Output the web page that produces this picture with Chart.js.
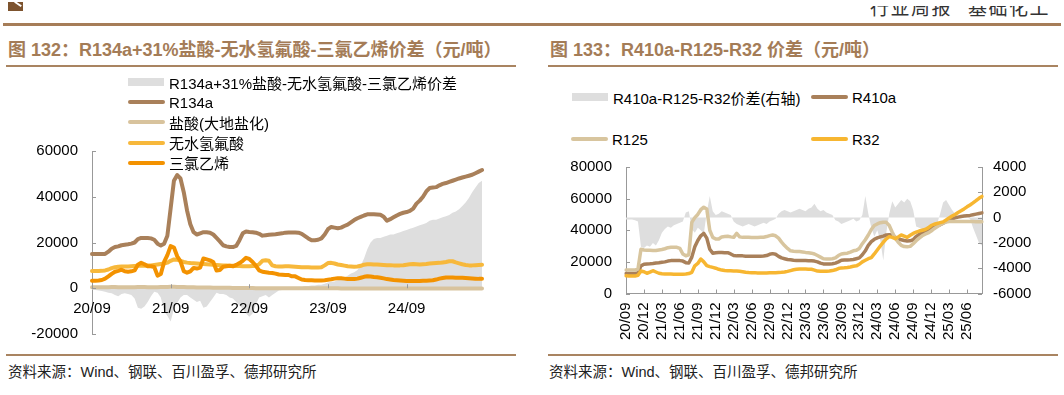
<!DOCTYPE html>
<html lang="zh">
<head>
<meta charset="UTF-8">
<title>价差</title>
<style>
  body { margin: 0; width: 1064px; height: 395px; position: relative; overflow: hidden; background: #fff;
         font-family: 'Liberation Sans', 'Noto Sans CJK SC', sans-serif; color: #000; }
  .abs { position: absolute; }
  .hdr-rule { left: 3px; top: 23px; width: 1058px; height: 3px; background: #a67d58; }
  .hdr-clip { left: 860px; top: 6px; width: 200px; height: 12px; overflow: hidden; }
  .hdr-clip span { position: absolute; top: -7px; font-size: 19px; line-height: 19px; color: #333; letter-spacing: 1.5px; white-space: nowrap; }
  .logo { left: 8px; top: 2px; width: 15px; height: 9px; background: #7d532e; }
  .logo::after { content: ''; position: absolute; left: 6px; top: 1px; width: 8px; height: 2px; background: #fff; transform: rotate(35deg); }
  .title { font-size: 18px; font-weight: bold; color: #a47c57; white-space: nowrap; line-height: 20px; }
  .rule { height: 2px; background: #a98461; }
  .legend { display: flex; flex-direction: column; }
  .item { display: flex; align-items: center; height: 20.2px; font-size: 15px; white-space: nowrap; }
  .sw-line { width: 37px; height: 4px; border-radius: 2px; margin-right: 4px; }
  .sw-box { width: 36px; height: 8px; background: #dedede; margin-right: 5px; }
  .source { font-size: 14.5px; color: #222; white-space: nowrap; line-height: 18px; }
  canvas { position: absolute; }
</style>
<script src="https://cdn.jsdelivr.net/npm/chart.js"></script>
</head>
<body>
  <div class="abs logo"></div>
  <div class="abs hdr-clip"><span style="left:10px">行业周报</span><span style="left:108px">基础化工</span></div>
  <div class="abs hdr-rule"></div>

  <!-- 图 132 -->
  <div class="abs title" style="left:8px; top:40px;">图 132：R134a+31%盐酸-无水氢氟酸-三氯乙烯价差（元/吨）</div>
  <div class="abs rule" style="left:6px; top:65px; width:510px;"></div>
  <canvas id="chart132" width="500" height="204" style="left:0; top:140px;"></canvas>
  <div class="abs legend" style="left:128px; top:72px;">
    <div class="item"><span class="sw-box"></span>R134a+31%盐酸-无水氢氟酸-三氯乙烯价差</div>
    <div class="item"><span class="sw-line" style="background:#a9805a"></span>R134a</div>
    <div class="item"><span class="sw-line" style="background:#d8c39d"></span>盐酸(大地盐化)</div>
    <div class="item"><span class="sw-line" style="background:#f7b83b"></span>无水氢氟酸</div>
    <div class="item"><span class="sw-line" style="background:#f39200"></span>三氯乙烯</div>
  </div>
  <div class="abs rule" style="left:6px; top:354px; width:510px;"></div>
  <div class="abs source" style="left:8px; top:363px;">资料来源：Wind、钢联、百川盈孚、德邦研究所</div>

  <!-- 图 133 -->
  <div class="abs title" style="left:550px; top:40px;">图 133：R410a-R125-R32 价差（元/吨）</div>
  <div class="abs rule" style="left:548px; top:65px; width:510px;"></div>
  <canvas id="chart133" width="520" height="200" style="left:540px; top:150px;"></canvas>
  <div class="abs item" style="left:572px; top:87px;"><span class="sw-box"></span>R410a-R125-R32价差(右轴)</div>
  <div class="abs item" style="left:811px; top:87px;"><span class="sw-line" style="background:#a9805a"></span>R410a</div>
  <div class="abs item" style="left:571px; top:129px;"><span class="sw-line" style="background:#d8c59e"></span>R125</div>
  <div class="abs item" style="left:811px; top:129px;"><span class="sw-line" style="background:#f7b631"></span>R32</div>
  <div class="abs rule" style="left:548px; top:354px; width:510px;"></div>
  <div class="abs source" style="left:549px; top:363px;">资料来源：Wind、钢联、百川盈孚、德邦研究所</div>

<script>
// half-monthly observation dates, shared by both charts
const dates = [
  '2020-09-01','2020-09-16','2020-10-01','2020-10-16','2020-11-01','2020-11-16','2020-12-01','2020-12-16',
  '2021-01-01','2021-01-16','2021-02-01','2021-02-16','2021-03-01','2021-03-16','2021-04-01','2021-04-16',
  '2021-05-01','2021-05-16','2021-06-01','2021-06-16','2021-07-01','2021-07-16','2021-08-01','2021-08-16',
  '2021-09-01','2021-09-16','2021-10-01','2021-10-16','2021-11-01','2021-11-16','2021-12-01','2021-12-16',
  '2022-01-01','2022-01-16','2022-02-01','2022-02-16','2022-03-01','2022-03-16','2022-04-01','2022-04-16',
  '2022-05-01','2022-05-16','2022-06-01','2022-06-16','2022-07-01','2022-07-16','2022-08-01','2022-08-16',
  '2022-09-01','2022-09-16','2022-10-01','2022-10-16','2022-11-01','2022-11-16','2022-12-01','2022-12-16',
  '2023-01-01','2023-01-16','2023-02-01','2023-02-16','2023-03-01','2023-03-16','2023-04-01','2023-04-16',
  '2023-05-01','2023-05-16','2023-06-01','2023-06-16','2023-07-01','2023-07-16','2023-08-01','2023-08-16',
  '2023-09-01','2023-09-16','2023-10-01','2023-10-16','2023-11-01','2023-11-16','2023-12-01','2023-12-16',
  '2024-01-01','2024-01-16','2024-02-01','2024-02-16','2024-03-01','2024-03-16','2024-04-01','2024-04-16',
  '2024-05-01','2024-05-16','2024-06-01','2024-06-16','2024-07-01','2024-07-16','2024-08-01','2024-08-16',
  '2024-09-01','2024-09-16','2024-10-01','2024-10-16','2024-11-01','2024-11-16','2024-12-01','2024-12-16',
  '2025-01-01','2025-01-16','2025-02-01','2025-02-16','2025-03-01','2025-03-16','2025-04-01','2025-04-16',
  '2025-05-01','2025-05-16','2025-06-01','2025-06-16','2025-07-01','2025-07-16','2025-08-01','2025-08-16'
];

// 图 132 series (元/吨)
const spread134 = [
  -500,-800,-1000,-1200,-1500,-2000,-2200,-3000,-3500,-2500,
  -2200,-2500,-3000,-4500,-8500,-9000,-8000,-6000,-3500,-1500,
  -2000,-4000,-10000,-12000,-14500,-9000,-6500,-4000,-3000,-3000,
  -4000,-5000,-6000,-5500,-8500,-8000,-6000,-4000,-2000,-2500,
  -2500,-3000,-4000,-4500,-6000,-7500,-9000,-11000,-12500,-11000,
  -7000,-4000,-3500,-3000,-4000,-3000,-2000,-1000,-800,-600,
  -500,-300,0,300,500,1000,1000,1200,1200,1500,
  1500,2000,2500,2800,3000,3500,4000,4500,5500,6500,
  7000,8000,10000,13000,17000,20000,21500,22000,22000,22500,
  23000,23500,23500,24000,24500,25000,25500,26000,26500,27000,
  27500,28000,28500,29500,30000,30000,30500,31000,31500,32000,
  33000,33500,34500,36000,37500,39500,42000,44000,46000,47000
];
const r134a = [
  15000,15000,15000,15000,15000,16000,17300,18000,18300,18800,
  19000,19200,19500,20000,21500,22000,22000,22000,21800,21200,
  19500,18700,19500,23000,35000,47000,49500,48000,42000,34000,
  28000,24500,23500,24000,24500,24500,24300,23500,22000,20500,
  18800,18300,18000,18000,18500,21000,24000,24800,24600,24500,
  24300,23800,23000,23200,23400,23500,23600,23800,24000,24300,
  24400,24400,24400,24300,23800,22800,21800,21000,21000,21200,
  21800,23500,25800,26800,26500,26200,26500,27200,27800,28800,
  29800,30600,31200,31800,32300,32400,32300,32200,32100,31300,
  29500,30200,31000,31800,32500,33000,33300,33800,34800,37000,
  38300,40000,42300,43800,44000,44200,45000,45600,46000,46500,
  47000,47500,48000,48400,48800,49200,49600,50300,51000,51700
];
const hcl = [
  400,400,400,450,450,450,500,500,450,450,
  400,400,400,450,500,500,500,450,450,450,
  450,500,550,600,650,650,600,550,500,450,
  400,400,350,350,300,300,300,250,250,250,
  200,200,200,150,150,150,100,100,100,100,
  50,50,50,50,0,0,0,0,0,0,
  50,50,50,50,0,0,0,0,0,0,
  -50,-50,-50,-50,-50,-50,-100,-100,-100,-100,
  -100,-100,-100,-100,-100,-100,-100,-150,-150,-150,
  -150,-150,-150,-150,-150,-150,-150,-150,-150,-150,
  -150,-150,-150,-150,-150,-150,-150,-150,-150,-150,
  -150,-150,-150,-150,-150,-150,-150,-150,-150,-150
];
const hf = [
  7500,7500,7500,7600,7800,8200,8800,9200,9400,9500,
  9500,9500,9600,9700,9800,9800,9800,9900,10000,10200,
  10400,10600,10800,11200,12000,12600,12500,12000,11500,11200,
  11000,10900,10800,10700,10600,10500,10400,10300,10200,10100,
  10000,9900,9800,9800,9700,9700,9600,9600,9600,9700,
  9800,10500,12000,12200,12000,10000,9600,9500,9500,9600,
  9600,9500,9400,9300,9200,9200,9200,9100,9100,9100,
  9200,10000,11000,11100,10800,10400,10200,9900,9600,9500,
  9400,9500,9800,10300,10500,10500,10400,10400,10300,10200,
  10100,10100,10000,10000,10000,10100,10300,10500,10600,10500,
  10400,10500,10600,10800,10900,11000,11100,11300,11500,11800,
  11800,11300,10900,10500,10200,10000,10000,10100,10200,10300
];
const tce = [
  3300,3300,3400,3600,4200,5200,6300,7200,7600,8100,
  7400,7200,7400,7800,10300,11100,10500,9600,9600,9300,
  5500,6200,11500,14500,18400,17800,14000,11800,7500,6800,
  7400,8900,8600,9000,13000,12600,12200,11500,7800,8000,
  9400,9600,9800,9600,10200,11000,12000,13300,12800,11500,
  9800,7800,7200,7000,6800,6700,6400,6000,5900,5800,
  5800,5200,5200,4500,3800,3600,3500,3500,3400,3400,
  3400,3500,3700,3900,4200,4400,4400,4200,4000,4000,
  4000,4200,4600,5000,5200,5100,4900,4800,4600,4300,
  4000,3800,3600,3500,3400,3300,3200,3200,3200,3200,
  3200,3300,3300,3400,3500,3800,4200,4500,4700,4700,
  4700,4600,4600,4600,4500,4400,4300,4200,4100,4100
];

// 图 133 series (元/吨)
const spread410 = [
  -150,-150,-150,-200,-300,-2300,-2400,-2200,-2300,-2000,
  -2200,-1800,-1200,-900,-700,-800,-600,-500,-400,-300,
  400,500,-900,-1200,-800,-1000,-1300,400,1700,500,
  200,300,500,400,300,200,-300,-500,-600,-700,
  -600,-500,-600,-700,-600,-500,-400,-500,-300,-200,
  -100,300,500,600,500,400,500,600,700,600,
  500,700,800,1100,700,500,600,400,300,200,
  -200,-300,-500,-400,-300,-200,-100,-300,-200,200,
  1700,300,-800,-1500,-1000,-1800,-3400,-1200,300,1300,
  800,1100,1400,1200,1500,1300,600,-700,-800,-900,
  -1000,-800,-700,-600,-500,300,1200,1400,1000,600,
  300,100,0,100,0,-100,-800,-1400,-2000,-2200
];
const r410a = [
  12700,12700,12700,12700,13000,17500,18500,18700,18800,19000,
  19300,19500,19800,20000,20500,20800,20800,20800,20800,20500,
  19500,19300,23000,29500,33500,36500,38000,35000,28000,25500,
  25800,26000,26000,25800,25800,25000,24000,23800,23800,23800,
  23600,23500,23500,23500,23600,23600,23700,24000,24800,25200,
  24800,23500,22500,22000,21500,21300,21000,20800,20800,20800,
  20800,20700,20700,20500,20000,19200,18700,18600,18600,18800,
  19200,20000,21000,21200,21200,21300,21500,22000,22500,24500,
  27000,30500,32800,34300,35200,35800,36300,37000,37200,37000,
  35500,34500,34000,33500,33200,33300,34000,36000,37400,38300,
  39000,40000,41000,42200,43000,43500,44500,45500,46500,47200,
  47800,48300,48700,49000,49200,49400,49800,50200,50600,51000
];
const r125 = [
  14800,14800,14800,14800,15500,28000,27500,27300,27300,27200,
  27200,27500,27800,28300,29000,29200,29200,29200,28500,25000,
  23900,24500,45000,48000,50000,53000,54600,53500,40000,35500,
  34500,34500,35800,36000,36200,35800,35500,38000,35800,35500,
  35500,35500,35400,35400,35400,35500,35600,36000,36600,37000,
  36500,35000,32500,30300,28500,27000,26700,26600,26500,26300,
  26000,25800,25500,25000,24000,23000,22000,21800,21800,22000,
  22500,24000,25000,25300,25500,26200,27000,27300,28500,31500,
  34000,37000,40500,43000,44000,44800,45100,45000,43000,38700,
  35000,32400,30500,29700,29500,29800,31500,33400,35000,36500,
  37500,38300,39500,41000,42200,43500,44500,45200,45500,45500,
  45600,45600,45600,45500,45500,45500,45500,45400,45400,45400
];
const r32 = [
  11200,11000,11000,11000,11500,14200,13800,12800,13500,14400,
  13600,12800,12500,12400,12300,12300,12200,12200,12200,12200,
  12300,12600,13400,17500,19000,21800,20000,17600,17000,16500,
  16000,15300,14800,14500,14400,14400,14300,14200,14000,13800,
  13500,13300,13200,13200,13000,12900,12900,13000,13100,13200,
  13200,13300,13400,13600,14000,14500,15000,15300,15500,15500,
  15500,15400,15300,14800,14200,14000,14000,14000,14200,14500,
  15000,15800,16200,16300,16500,16800,17200,17500,18500,20000,
  21000,22000,22700,25000,27500,30000,32400,34500,36000,35500,
  34700,35800,37000,36300,35500,36800,38000,38800,39500,40000,
  40500,41500,43000,43800,44300,44800,45300,46500,47800,49000,
  50000,51200,52300,53500,54800,56000,57300,58700,60200,61400
];

// tick labels
const ticks132 = ['20/09','21/09','22/09','23/09','24/09'];
const ticks133 = ['20/09','20/12','21/03','21/06','21/09','21/12','22/03','22/06','22/09','22/12',
                  '23/03','23/06','23/09','23/12','24/03','24/06','24/09','24/12','25/03','25/06'];

Chart.defaults.font.family = "'Liberation Sans', 'Noto Sans CJK SC', sans-serif";
Chart.defaults.font.size = 15;
Chart.defaults.color = '#000';

function dateLabel(list) {
  return (v, i) => {
    const d = dates[i];
    const lbl = d.slice(2, 4) + '/' + d.slice(5, 7);
    return d.endsWith('-01') && list.includes(lbl) ? lbl : null;
  };
}

// short tick marks drawn inside the plot, like the original
const innerTicks = {
  id: 'innerTicks',
  afterDraw(chart, args, opts) {
    const ctx = chart.ctx;
    ctx.save();
    ctx.strokeStyle = '#999';
    ctx.lineWidth = 1;
    ctx.beginPath();
    opts.axes.forEach(id => {
      const s = chart.scales[id];
      s.ticks.forEach((t, i) => {
        if (t.label === null || t.label === undefined) return;
        const p = Math.round(s.getPixelForTick(i)) + 0.5;
        if (s.isHorizontal()) {
          const pos = s.options.position;
          const y = typeof pos === 'object' ? chart.scales.y.getPixelForValue(pos.y) : s.top;
          ctx.moveTo(p, y); ctx.lineTo(p, y - 4);
        } else if (s.position === 'left') {
          ctx.moveTo(s.right, p); ctx.lineTo(s.right + 4, p);
        } else {
          ctx.moveTo(s.left, p); ctx.lineTo(s.left - 4, p);
        }
      });
    });
    ctx.stroke();
    ctx.restore();
  }
};

const common = {
  responsive: false,
  animation: false,
  events: [],
  elements: {
    point: { radius: 0 },
    line: { tension: 0, borderJoinStyle: 'round', borderCapStyle: 'round' }
  }
};

// grid hidden; tickLength only keeps the gap between labels and axis line
function gap(n) {
  return { display: false, drawTicks: true, tickLength: n };
}

function lineSet(label, data, color, width, order, axis) {
  return { label, data, borderColor: color, borderWidth: width, fill: false, order, yAxisID: axis || 'y' };
}
function areaSet(label, data, order, axis) {
  return { label, data, borderWidth: 0, borderColor: 'rgba(0,0,0,0)', backgroundColor: '#dedede',
           fill: 'origin', order, yAxisID: axis || 'y' };
}

new Chart(document.getElementById('chart132'), {
  type: 'line',
  data: {
    labels: dates,
    datasets: [
      areaSet('R134a+31%盐酸-无水氢氟酸-三氯乙烯价差', spread134, 5),
      lineSet('R134a', r134a, '#a9805a', 4, 4),
      lineSet('盐酸(大地盐化)', hcl, '#d8c39d', 4, 3),
      lineSet('无水氢氟酸', hf, '#f7b83b', 4, 2),
      lineSet('三氯乙烯', tce, '#f39200', 4, 1)
    ]
  },
  options: {
    ...common,
    layout: { padding: { top: 11, right: 18, bottom: 10, left: 0 } },
    plugins: { legend: { display: false }, tooltip: { enabled: false }, innerTicks: { axes: ['x', 'y'] } },
    scales: {
      x: {
        type: 'category',
        position: { y: 0 },
        afterFit: s => { s.height = 0; },
        grid: gap(12),
        border: { display: false },
        ticks: { z: 1, autoSkip: false, maxRotation: 0, minRotation: 0, padding: 0, callback: dateLabel(ticks132) }
      },
      y: {
        min: -20000, max: 60000,
        afterFit: s => { s.width = 92; },
        grid: gap(14),
        border: { color: '#999', width: 1 },
        ticks: { stepSize: 20000, padding: 0, callback: v => String(v) }
      }
    }
  },
  plugins: [innerTicks]
});

new Chart(document.getElementById('chart133'), {
  type: 'line',
  data: {
    labels: dates,
    datasets: [
      areaSet('R410a-R125-R32价差(右轴)', spread410, 4, 'y1'),
      lineSet('R410a', r410a, '#a9805a', 3.5, 3),
      lineSet('R125', r125, '#d8c59e', 3.5, 2),
      lineSet('R32', r32, '#f7b631', 3.5, 1)
    ]
  },
  options: {
    ...common,
    layout: { padding: { top: 17, right: 0, bottom: 0, left: 0 } },
    plugins: { legend: { display: false }, tooltip: { enabled: false }, innerTicks: { axes: ['x', 'y', 'y1'] } },
    scales: {
      x: {
        type: 'category',
        position: 'bottom',
        afterFit: s => { s.height = 56.5; },
        grid: gap(9),
        border: { color: '#999', width: 1 },
        ticks: { autoSkip: false, maxRotation: 90, minRotation: 90, padding: 0, callback: dateLabel(ticks133) }
      },
      y: {
        position: 'left',
        min: 0, max: 80000,
        afterFit: s => { s.width = 86; },
        grid: gap(14),
        border: { color: '#999', width: 1 },
        ticks: { stepSize: 20000, padding: 0, callback: v => String(v) }
      },
      y1: {
        position: 'right',
        min: -6000, max: 4000,
        afterFit: s => { s.width = 78; },
        grid: gap(11),
        border: { color: '#999', width: 1 },
        ticks: { stepSize: 2000, padding: 0, callback: v => String(v) }
      }
    }
  },
  plugins: [innerTicks]
});
</script>
</body>
</html>
